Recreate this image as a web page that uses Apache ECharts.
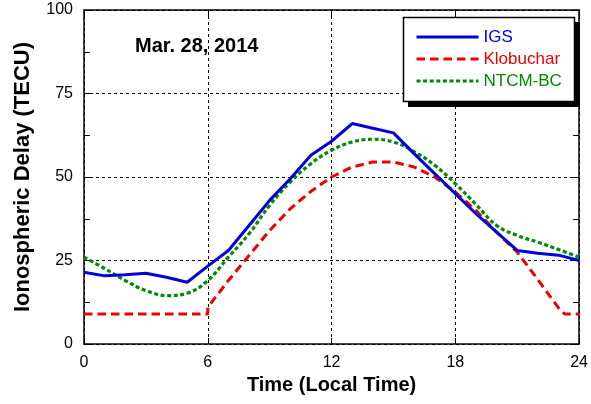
<!DOCTYPE html>
<html>
<head>
<meta charset="utf-8">
<script src="https://cdn.jsdelivr.net/npm/echarts@6/dist/echarts.min.js"></script>
<style>
  html, body { margin: 0; padding: 0; background: #fff; }
  #chart { width: 591px; height: 404px; }
</style>
</head>
<body>
<div id="chart"></div>
<script>
// local time, hours
var hours = [0, 1, 2, 3, 4, 5, 6, 7, 8, 9, 10, 11, 12, 13, 14, 15, 16, 17, 18, 19, 20, 21, 22, 23, 24];
var igs = [21.5, 20.4, 20.7, 21.2, 20.0, 18.5, 23.3, 28.0, 35.5, 43.0, 49.5, 56.5, 60.7, 66.0, 64.6, 63.2, 57.0, 51.0, 45.0, 39.0, 33.5, 28.0, 27.2, 26.6, 25.0];
var ntcm = [26.0, 22.6, 19.0, 16.0, 14.5, 15.2, 19.0, 26.0, 33.0, 41.5, 48.5, 54.0, 58.0, 60.5, 61.3, 60.5, 57.6, 53.5, 48.0, 41.8, 35.5, 32.5, 30.5, 28.3, 26.0];
// klobuchar has a jump at 6h and a flat night value
var klobHours = [0, 6, 6, 7, 8, 9, 10, 11, 12, 13, 14, 15, 16, 17, 18, 19, 20, 21, 22, 23, 23.3, 24];
var klob = [9, 9, 11, 19, 26.5, 34, 40.5, 45.7, 50, 53, 54.5, 54.5, 53, 50, 45.5, 40, 33.5, 27.5, 19.3, 10.8, 9, 9];
var xTicks = [0, 6, 12, 18, 24];
var yTicks = [0, 25, 50, 75, 100];
var seriesNames = ['IGS', 'Klobuchar', 'NTCM-BC'];
var seriesColors = ['#0000dd', '#ee0000', '#008a00'];

function pairs(xs, ys) {
    var out = [];
    for (var i = 0; i < xs.length; i++) out.push([xs[i], ys[i]]);
    return out;
}

var FONT = 'Liberation Sans, Arial, sans-serif';
var chart = echarts.init(document.getElementById('chart'), null, {renderer: 'canvas'});

var baseX = {
    type: 'value',
    min: xTicks[0],
    max: xTicks[xTicks.length - 1],
    interval: xTicks[1] - xTicks[0],
    axisLine: {show: true, onZero: false, lineStyle: {color: '#000', width: 1.5}},
    axisTick: {show: true, inside: true, length: 6, lineStyle: {color: '#000', width: 1}},
    splitLine: {show: false}
};
var baseY = {
    type: 'value',
    min: yTicks[0],
    max: yTicks[yTicks.length - 1],
    interval: yTicks[1] - yTicks[0],
    axisLine: {show: true, onZero: false, lineStyle: {color: '#000', width: 1.5}},
    axisTick: {show: true, inside: true, length: 6, lineStyle: {color: '#000', width: 1}},
    minorTick: {show: true, splitNumber: 2, length: 6, lineStyle: {color: '#000', width: 1}},
    splitLine: {show: false}
};

var option = {
    animation: false,
    backgroundColor: '#fff',
    title: {
        text: 'Mar. 28, 2014',
        left: 135,
        top: 36,
        padding: 0,
        textStyle: {fontFamily: FONT, fontSize: 20, fontWeight: 'bold', color: '#000'}
    },
    grid: {left: 84, right: 8, top: 10, bottom: 60},
    // legend frame with its hard drop shadow
    graphic: [
        {type: 'rect', z: 10, shape: {x: 408, y: 22, width: 172, height: 85}, style: {fill: '#000'}},
        {type: 'rect', z: 11, shape: {x: 403.5, y: 17.5, width: 171, height: 84}, style: {fill: '#fff', stroke: '#000', lineWidth: 1.5}}
    ],
    legend: {
        orient: 'vertical',
        left: 403,
        top: 17,
        z: 20,
        padding: [9, 14, 9, 12],
        itemGap: 0,
        itemWidth: 62,
        itemHeight: 14,
        // hide the marker dot, keep the line sample
        itemStyle: {color: 'transparent', borderColor: 'transparent', borderWidth: 0, opacity: 0},
        lineStyle: {width: 3},
        textStyle: {fontFamily: FONT, fontSize: 17, lineHeight: 22},
        data: seriesNames.map(function (n, i) {
            return {name: n, textStyle: {color: seriesColors[i]}};
        })
    },
    xAxis: [
        Object.assign({}, baseX, {
            position: 'bottom',
            name: 'Time (Local Time)',
            nameLocation: 'middle',
            nameGap: 31,
            nameTextStyle: {fontFamily: FONT, fontSize: 20, fontWeight: 'bold', color: '#000'},
            axisLabel: {show: true, margin: 11, fontFamily: FONT, fontSize: 16, color: '#000'},
            splitLine: {show: true, lineStyle: {color: '#000', width: 1, type: [3, 3]}}
        }),
        Object.assign({}, baseX, {position: 'top', axisLabel: {show: false}})
    ],
    yAxis: [
        Object.assign({}, baseY, {
            position: 'left',
            name: 'Ionospheric Delay (TECU)',
            nameLocation: 'middle',
            nameGap: 50,
            nameTextStyle: {fontFamily: FONT, fontSize: 22, fontWeight: 'bold', color: '#000'},
            axisLabel: {show: true, margin: 11, fontFamily: FONT, fontSize: 16, color: '#000'},
            splitLine: {show: true, lineStyle: {color: '#000', width: 1, type: [3, 3]}}
        }),
        Object.assign({}, baseY, {position: 'right', axisLabel: {show: false}})
    ],
    series: [
        {
            name: seriesNames[0],
            type: 'line',
            data: pairs(hours, igs),
            showSymbol: false,
            symbol: 'none',
            z: 4,
            itemStyle: {color: seriesColors[0]},
            lineStyle: {color: seriesColors[0], width: 3}
        },
        {
            name: seriesNames[1],
            type: 'line',
            data: pairs(klobHours, klob),
            showSymbol: false,
            symbol: 'none',
            z: 3,
            itemStyle: {color: seriesColors[1]},
            lineStyle: {color: seriesColors[1], width: 3, type: [8.5, 5]}
        },
        {
            name: seriesNames[2],
            type: 'line',
            data: pairs(hours, ntcm),
            smooth: 0.4,
            showSymbol: false,
            symbol: 'none',
            z: 3,
            itemStyle: {color: seriesColors[2]},
            lineStyle: {color: seriesColors[2], width: 3.2, type: [4, 2.6]}
        }
    ]
};
chart.setOption(option);
</script>
</body>
</html>
